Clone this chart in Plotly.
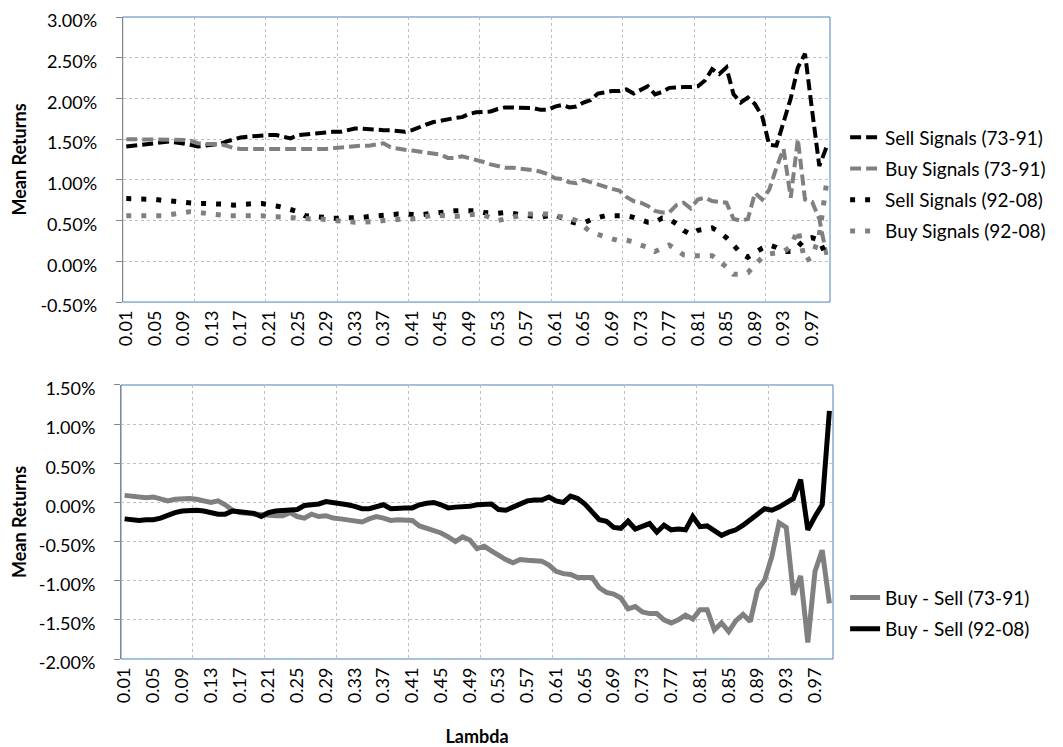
import plotly.graph_objects as go

# ---------------- data ----------------
lambdas = [round(0.01 * k, 2) for k in range(1, 100)]

sell_7391 = [1.41, 1.42, 1.42, 1.43, 1.44, 1.46, 1.47, 1.46, 1.45, 1.43,
             1.41, 1.42, 1.43, 1.44, 1.47, 1.50, 1.52, 1.53, 1.54, 1.55,
             1.55, 1.55, 1.53, 1.51, 1.55, 1.56, 1.57, 1.58, 1.58, 1.59,
             1.59, 1.61, 1.63, 1.63, 1.62, 1.62, 1.61, 1.61, 1.60, 1.59,
             1.61, 1.65, 1.68, 1.71, 1.73, 1.75, 1.76, 1.77, 1.81, 1.83,
             1.83, 1.84, 1.87, 1.89, 1.89, 1.89, 1.89, 1.88, 1.86, 1.86,
             1.90, 1.92, 1.89, 1.90, 1.95, 1.98, 2.06, 2.08, 2.09, 2.09,
             2.11, 2.06, 2.11, 2.15, 2.05, 2.08, 2.13, 2.14, 2.14, 2.14,
             2.15, 2.22, 2.36, 2.30, 2.38, 2.05, 1.95, 2.01, 1.93, 1.78,
             1.43, 1.42, 1.70, 2.00, 2.38, 2.55, 1.85, 1.17, 1.40]

buy_7391 = [1.50, 1.50, 1.49, 1.49, 1.49, 1.49, 1.49, 1.49, 1.49, 1.48,
            1.45, 1.44, 1.44, 1.44, 1.42, 1.39, 1.38, 1.38, 1.38, 1.38,
            1.38, 1.37, 1.37, 1.38, 1.37, 1.37, 1.37, 1.38, 1.38, 1.39,
            1.40, 1.41, 1.42, 1.42, 1.42, 1.43, 1.45, 1.40, 1.38, 1.37,
            1.36, 1.35, 1.34, 1.33, 1.31, 1.27, 1.27, 1.29, 1.27, 1.24,
            1.22, 1.19, 1.17, 1.15, 1.15, 1.14, 1.14, 1.12, 1.10, 1.07,
            1.02, 1.01, 0.97, 0.96, 1.00, 0.97, 0.94, 0.92, 0.89, 0.87,
            0.79, 0.74, 0.72, 0.68, 0.62, 0.60, 0.60, 0.69, 0.72, 0.65,
            0.76, 0.78, 0.74, 0.73, 0.72, 0.52, 0.50, 0.52, 0.84, 0.76,
            0.88, 1.15, 1.38, 0.78, 1.50, 0.76, 0.73, 0.52, 0.08]

sell_9208 = [0.77, 0.77, 0.77, 0.76, 0.76, 0.75, 0.74, 0.73, 0.72, 0.71,
             0.71, 0.71, 0.71, 0.71, 0.70, 0.69, 0.70, 0.71, 0.71, 0.71,
             0.70, 0.68, 0.66, 0.64, 0.61, 0.56, 0.55, 0.54, 0.53, 0.53,
             0.53, 0.53, 0.53, 0.54, 0.55, 0.56, 0.57, 0.57, 0.58, 0.58,
             0.57, 0.57, 0.58, 0.59, 0.61, 0.62, 0.62, 0.62, 0.62, 0.62,
             0.60, 0.59, 0.59, 0.60, 0.59, 0.58, 0.57, 0.55, 0.54, 0.56,
             0.57, 0.53, 0.49, 0.47, 0.47, 0.51, 0.54, 0.56, 0.56, 0.56,
             0.56, 0.54, 0.51, 0.48, 0.48, 0.53, 0.52, 0.46, 0.38, 0.33,
             0.38, 0.40, 0.41, 0.36, 0.29, 0.20, 0.10, 0.05, 0.11, 0.16,
             0.20, 0.17, 0.12, 0.12, 0.18, 0.27, 0.29, 0.26, 0.06]

buy_9208 = [0.56, 0.56, 0.55, 0.55, 0.55, 0.56, 0.57, 0.58, 0.60, 0.61,
            0.60, 0.59, 0.58, 0.56, 0.56, 0.56, 0.56, 0.57, 0.57, 0.56,
            0.55, 0.55, 0.55, 0.54, 0.53, 0.52, 0.52, 0.52, 0.51, 0.50,
            0.49, 0.48, 0.48, 0.48, 0.48, 0.49, 0.50, 0.51, 0.51, 0.52,
            0.52, 0.53, 0.55, 0.57, 0.56, 0.55, 0.55, 0.56, 0.57, 0.58,
            0.57, 0.53, 0.50, 0.52, 0.54, 0.56, 0.58, 0.58, 0.58, 0.58,
            0.56, 0.55, 0.53, 0.50, 0.42, 0.36, 0.33, 0.30, 0.27, 0.25,
            0.26, 0.24, 0.20, 0.17, 0.12, 0.16, 0.20, 0.14, 0.08, 0.07,
            0.07, 0.07, 0.07, 0.00, -0.07, -0.16, -0.16, -0.14, -0.05, 0.05,
            0.09, 0.10, 0.12, 0.18, 0.39, 0.00, 0.05, 0.32, 0.95]

bs_7391 = [0.09, 0.08, 0.07, 0.06, 0.07, 0.04, 0.02, 0.04, 0.05, 0.05,
           0.04, 0.02, 0.00, 0.02, -0.03, -0.10, -0.13, -0.14, -0.15, -0.16,
           -0.17, -0.17, -0.17, -0.13, -0.18, -0.20, -0.15, -0.18, -0.17, -0.20,
           -0.21, -0.22, -0.23, -0.25, -0.21, -0.18, -0.20, -0.23, -0.22, -0.22,
           -0.23, -0.30, -0.33, -0.35, -0.39, -0.44, -0.50, -0.44, -0.48, -0.59,
           -0.56, -0.62, -0.68, -0.73, -0.77, -0.73, -0.74, -0.74, -0.75, -0.80,
           -0.88, -0.91, -0.92, -0.96, -0.96, -0.96, -1.09, -1.15, -1.17, -1.22,
           -1.36, -1.33, -1.40, -1.42, -1.42, -1.50, -1.54, -1.50, -1.44, -1.49,
           -1.37, -1.37, -1.63, -1.54, -1.65, -1.51, -1.43, -1.52, -1.12, -0.99,
           -0.69, -0.26, -0.32, -1.18, -0.94, -1.79, -0.88, -0.61, -1.29]

bs_9208 = [-0.21, -0.22, -0.23, -0.22, -0.22, -0.20, -0.16, -0.13, -0.11, -0.10,
           -0.10, -0.11, -0.13, -0.15, -0.15, -0.11, -0.12, -0.13, -0.14, -0.18,
           -0.13, -0.11, -0.10, -0.10, -0.09, -0.04, -0.03, -0.02, 0.01, 0.00,
           -0.02, -0.03, -0.05, -0.08, -0.08, -0.06, -0.03, -0.08, -0.07, -0.07,
           -0.07, -0.03, -0.01, 0.00, -0.03, -0.07, -0.06, -0.06, -0.05, -0.03,
           -0.03, -0.02, -0.09, -0.10, -0.06, -0.02, 0.02, 0.03, 0.03, 0.07,
           0.02, 0.00, 0.08, 0.05, -0.02, -0.12, -0.22, -0.24, -0.32, -0.33,
           -0.24, -0.34, -0.30, -0.27, -0.38, -0.29, -0.35, -0.34, -0.35, -0.18,
           -0.31, -0.30, -0.36, -0.42, -0.38, -0.35, -0.29, -0.21, -0.15, -0.08,
           -0.10, -0.06, -0.01, 0.05, 0.29, -0.35, -0.18, -0.03, 1.17]

x_tick_vals = lambdas[::4]
x_tick_text = ["%.2f" % v for v in x_tick_vals]
top_y_vals = [-0.5, 0.0, 0.5, 1.0, 1.5, 2.0, 2.5, 3.0]
top_y_text = ["-0.50%", "0.00%", "0.50%", "1.00%", "1.50%", "2.00%", "2.50%", "3.00%"]
bot_y_vals = [-2.0, -1.5, -1.0, -0.5, 0.0, 0.5, 1.0, 1.5]
bot_y_text = ["-2.00%", "-1.50%", "-1.00%", "-0.50%", "0.00%", "0.50%", "1.00%", "1.50%"]
vgrid_vals = [0.105, 0.205, 0.305, 0.405, 0.505, 0.605, 0.705, 0.805, 0.905]

# ---------------- figure ----------------
FONT = "Lato"
GREY = "#808080"
GRIDC = "#BFBFBF"
fig = go.Figure()

# (values, name, line style, x axis, y axis, legend)
# x / x2 carry the tick labels, x3 / x4 (same range, overlaid) carry the vertical grid
series = [
    (sell_7391, "Sell Signals (73-91)", dict(color="black", width=4, dash="11px,5px"), "x", "y", "legend"),
    (buy_7391, "Buy Signals (73-91)", dict(color=GREY, width=4, dash="11px,5px"), "x", "y", "legend"),
    (sell_9208, "Sell Signals (92-08)", dict(color="black", width=5, dash="5px,10px"), "x3", "y", "legend"),
    (buy_9208, "Buy Signals (92-08)", dict(color=GREY, width=5, dash="5px,10px"), "x3", "y", "legend"),
    (bs_7391, "Buy - Sell (73-91)", dict(color=GREY, width=5), "x2", "y2", "legend2"),
    (bs_9208, "Buy - Sell (92-08)", dict(color="black", width=5), "x4", "y2", "legend2"),
]
for vals, name, line, xa, ya, lg in series:
    fig.add_trace(go.Scatter(x=lambdas, y=vals, name=name, mode="lines", line=line,
                             xaxis=xa, yaxis=ya, legend=lg, legendgroup=name))

tickfont = dict(family=FONT, size=18, color="black")
titlefont = dict(family=FONT, size=18, color="black", weight="bold")

def xaxis_cfg(domain, anchor, title=None):
    d = dict(domain=domain, anchor=anchor, range=[0.005, 0.995],
             tickmode="array", tickvals=x_tick_vals, ticktext=x_tick_text,
             tickangle=-90, tickfont=tickfont, showgrid=False, zeroline=False,
             ticks="", showline=False, automargin=False, ticklabelstandoff=4)
    if title:
        d["title"] = dict(text=title, font=titlefont, standoff=28)
    return d

def vgrid_cfg(over, anchor):
    return dict(overlaying=over, anchor=anchor, range=[0.005, 0.995],
                tickmode="array", tickvals=vgrid_vals, showticklabels=False,
                showgrid=True, gridcolor=GRIDC, griddash="dot", gridwidth=1,
                zeroline=False, ticks="", showline=False, automargin=False)

def yaxis_cfg(domain, anchor, rng, vals, text):
    return dict(domain=domain, anchor=anchor, range=rng, tickmode="array",
                tickvals=vals, ticktext=text, tickfont=tickfont, zeroline=False,
                showline=True, linecolor="#868686", linewidth=1,
                ticks="outside", ticklen=6, tickcolor="#868686",
                ticklabelstandoff=15, ticklabelshift=4, ticklabeloverflow="allow",
                automargin=False,
                showgrid=True, gridcolor=GRIDC, griddash="dot", gridwidth=1,
                title=dict(text="Mean Returns", font=titlefont, standoff=9))

legend_font = dict(family=FONT, size=19, color="black")

# the page body adds an 8px offset, so the figure is 8px smaller and margins are shifted
fig.update_layout(
    width=1055, height=739,
    paper_bgcolor="white", plot_bgcolor="white",
    margin=dict(l=113, r=230, t=9, b=88, autoexpand=False),
    font=dict(family=FONT, size=18, color="black"),
    xaxis=xaxis_cfg([0.0024, 0.9958], "y"),
    yaxis=yaxis_cfg([0.556, 1.0], "x", [-0.5, 3.0], top_y_vals, top_y_text),
    xaxis2=xaxis_cfg([0.0, 1.0], "y2", "Lambda"),
    yaxis2=yaxis_cfg([0.0, 0.4268], "x2", [-2.0, 1.5], bot_y_vals, bot_y_text),
    xaxis3=vgrid_cfg("x", "y"),
    xaxis4=vgrid_cfg("x2", "y2"),
    legend=dict(x=1.017, y=0.842, xanchor="left", yanchor="top", font=legend_font,
                bgcolor="rgba(0,0,0,0)", tracegroupgap=3.5),
    legend2=dict(x=1.017, y=0.125, xanchor="left", yanchor="top", font=legend_font,
                 bgcolor="rgba(0,0,0,0)", tracegroupgap=3.5),
    showlegend=True,
    shapes=[
        dict(type="rect", xref="x domain", yref="y domain", x0=0, x1=1, y0=0, y1=1,
             line=dict(color="#4F81BD", width=1), layer="below"),
        dict(type="rect", xref="x2 domain", yref="y2 domain", x0=0, x1=1, y0=0, y1=1,
             line=dict(color="#4F81BD", width=1), layer="below"),
    ],
)

fig.write_html("out.html")
